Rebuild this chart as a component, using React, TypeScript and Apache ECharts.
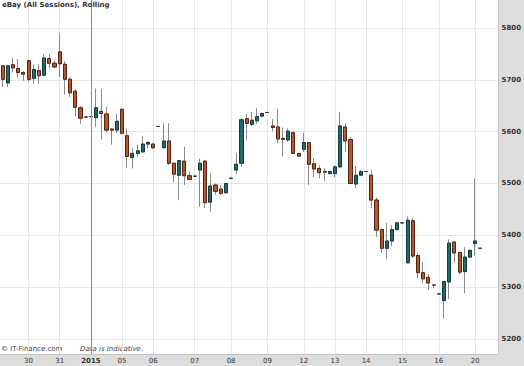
import React, { useEffect, useRef } from "react";
import * as echarts from "echarts";

const FONT = "DejaVu Sans, Verdana, sans-serif";

// Trading days (tick labels) and the number of candles each one holds
const dayLabels = ["", "30", "31", "2015", "05", "06", "07", "08", "09", "12", "13", "14", "15", "16", "20"];
const dayCandleCounts = [5, 6, 6, 6, 6, 8, 7, 7, 7, 6, 6, 7, 7, 7, 5];

const opens = [
  5727, 5694, 5729, 5722, 5714, 5737, 5703, 5718, 5709, 5741, 5732, 5754, 5730, 5701, 5678, 5646,
  5628, 5629, 5627, 5639, 5634, 5605, 5603, 5643, 5592, 5550, 5558, 5561, 5576, 5576, 5610, 5569,
  5582, 5539, 5516, 5543, 5515, 5514, 5526, 5543, 5464, 5497, 5489, 5482, 5510, 5526, 5539, 5625,
  5614, 5621, 5630, 5637, 5611, 5609, 5587, 5584, 5598, 5558, 5566, 5579, 5538, 5529, 5523, 5519,
  5519, 5532, 5609, 5585, 5499, 5516, 5523, 5516, 5468, 5411, 5375, 5389, 5411, 5424, 5347, 5428,
  5361, 5328, 5319, 5304, 5287, 5274, 5310, 5387, 5367, 5330, 5358, 5384, 5375,
];
const closes = [
  5701, 5727, 5723, 5714, 5711, 5701, 5720, 5708, 5742, 5732, 5725, 5731, 5701, 5675, 5647, 5626,
  5628, 5629, 5646, 5635, 5603, 5603, 5620, 5597, 5552, 5558, 5563, 5576, 5579, 5569, 5610, 5582,
  5539, 5518, 5544, 5515, 5508, 5514, 5539, 5463, 5495, 5485, 5481, 5500, 5510, 5537, 5623, 5616,
  5622, 5629, 5635, 5637, 5608, 5586, 5585, 5601, 5558, 5553, 5579, 5537, 5528, 5521, 5522, 5523,
  5532, 5611, 5582, 5500, 5516, 5523, 5523, 5468, 5410, 5375, 5389, 5411, 5424, 5424, 5429, 5360,
  5328, 5316, 5308, 5304, 5287, 5311, 5385, 5366, 5329, 5358, 5371, 5389, 5375,
];
const lows = [
  5686, 5686, 5714, 5705, 5698, 5696, 5693, 5692, 5707, 5722, 5722, 5705, 5671, 5667, 5630, 5615,
  5626, 5629, 5609, 5585, 5599, 5575, 5597, 5595, 5530, 5529, 5552, 5559, 5568, 5567, 5610, 5568,
  5536, 5502, 5468, 5497, 5507, 5514, 5455, 5453, 5445, 5478, 5478, 5481, 5510, 5518, 5532, 5584,
  5611, 5615, 5628, 5637, 5601, 5578, 5552, 5581, 5557, 5552, 5561, 5497, 5512, 5510, 5505, 5518,
  5512, 5531, 5561, 5499, 5491, 5514, 5523, 5452, 5397, 5366, 5354, 5379, 5410, 5424, 5346, 5356,
  5317, 5308, 5295, 5298, 5287, 5239, 5277, 5347, 5325, 5288, 5357, 5360, 5375,
];
const highs = [
  5729, 5729, 5743, 5740, 5717, 5738, 5729, 5730, 5749, 5750, 5736, 5790, 5736, 5705, 5682, 5649,
  5630, 5629, 5683, 5682, 5648, 5607, 5635, 5645, 5606, 5568, 5575, 5592, 5582, 5578, 5610, 5616,
  5616, 5540, 5545, 5571, 5523, 5514, 5548, 5545, 5520, 5500, 5497, 5501, 5510, 5559, 5626, 5634,
  5638, 5645, 5637, 5637, 5624, 5644, 5608, 5606, 5600, 5559, 5598, 5580, 5549, 5535, 5529, 5524,
  5535, 5638, 5616, 5590, 5534, 5526, 5523, 5526, 5473, 5413, 5424, 5420, 5426, 5424, 5436, 5433,
  5366, 5348, 5325, 5304, 5287, 5312, 5392, 5389, 5368, 5377, 5373, 5510, 5375,
];

const priceMin = 5171;
const priceMax = 5854;

export default function App() {
  const ref = useRef<HTMLDivElement>(null);

  useEffect(() => {
    if (!ref.current) return;
    const chart = echarts.init(ref.current, undefined, { renderer: "svg" });

    const categories: string[] = [];
    const dayStart: Record<number, string> = {};
    dayLabels.forEach((lab, d) => {
      for (let k = 0; k < dayCandleCounts[d]; k++) {
        if (k === 0 && lab) dayStart[categories.length] = lab;
        categories.push(`${d}-${k}`);
      }
    });
    const yearIdx = Number(Object.keys(dayStart).find((k) => dayStart[Number(k)] === "2015"));

    const wickData = opens.map((o, i) => [o, closes[i], lows[i], highs[i]]);
    const bodyData = opens.map((o, i) => [o, closes[i], Math.min(o, closes[i]), Math.max(o, closes[i])]);
    const isStart = (index: number) => dayStart[index] !== undefined;

    chart.setOption({
      animation: false,
      backgroundColor: "#dddddd",
      title: {
        text: "eBay (All Sessions), Rolling",
        left: 2,
        top: 1,
        padding: 0,
        textStyle: { fontSize: 7, fontWeight: "bold", color: "#333", fontFamily: FONT },
      },
      grid: {
        left: 0,
        top: 0,
        right: 25,
        bottom: 12,
        show: true,
        backgroundColor: "#ffffff",
        borderWidth: 0,
      },
      xAxis: {
        type: "category",
        data: categories,
        boundaryGap: true,
        axisLine: { show: true, lineStyle: { color: "#c4c4c4" } },
        axisTick: {
          show: true,
          inside: true,
          alignWithLabel: true,
          length: 354,
          interval: (index: number) => isStart(index),
          lineStyle: { color: "#e6e6e6" },
        },
        axisLabel: {
          interval: (index: number) => isStart(index),
          formatter: (_v: string, index: number) => {
            const lab = dayStart[index] || "";
            return lab === "2015" ? `{b|${lab}}` : lab;
          },
          margin: 3,
          fontSize: 7,
          color: "#333",
          fontFamily: FONT,
          rich: { b: { fontSize: 7, fontWeight: "bold", color: "#333", fontFamily: FONT } },
        },
        splitLine: { show: false },
      },
      yAxis: {
        type: "value",
        position: "right",
        min: priceMin,
        max: priceMax,
        splitNumber: 7,
        axisLine: { show: true, lineStyle: { color: "#c4c4c4" } },
        axisTick: { show: false },
        axisLabel: {
          margin: 3,
          fontSize: 7,
          fontWeight: "bold",
          color: "#333",
          fontFamily: FONT,
          showMinLabel: false,
          showMaxLabel: false,
          formatter: (v: number) => String(v),
        },
        splitLine: { show: true, showMinLine: false, showMaxLine: false, lineStyle: { color: "#e6e6e6" } },
      },
      graphic: [
        {
          type: "text",
          left: 1,
          top: 345,
          style: { text: "© IT-Finance.com", fontSize: 7, fontFamily: FONT, fill: "#444" },
        },
        {
          type: "text",
          left: 80,
          top: 345,
          style: { text: "Data is Indicative.", fontSize: 7, fontStyle: "italic", fontFamily: FONT, fill: "#444" },
        },
      ],
      series: [
        {
          type: "candlestick",
          name: "range",
          data: wickData,
          barWidth: 3.6,
          silent: true,
          itemStyle: {
            color: "transparent",
            color0: "transparent",
            borderColor: "#8a8a8a",
            borderColor0: "#8a8a8a",
            borderColorDoji: "#8a8a8a",
            borderWidth: 1,
          },
          markLine: {
            silent: true,
            symbol: "none",
            label: { show: false },
            lineStyle: { color: "#8c8c8c", type: "solid", width: 1 },
            data: [{ xAxis: categories[yearIdx] }],
          },
        },
        {
          type: "candlestick",
          name: "body",
          data: bodyData,
          barWidth: 3.6,
          silent: true,
          itemStyle: {
            color: "#1f6a6c",
            color0: "#b9562c",
            borderColor: "#163a3b",
            borderColor0: "#4f2412",
            borderColorDoji: "#333333",
            borderWidth: 1,
          },
        },
      ],
    });

    return () => chart.dispose();
  }, []);

  return <div ref={ref} style={{ position: "absolute", left: 0, top: 0, width: 524, height: 366 }} />;
}
